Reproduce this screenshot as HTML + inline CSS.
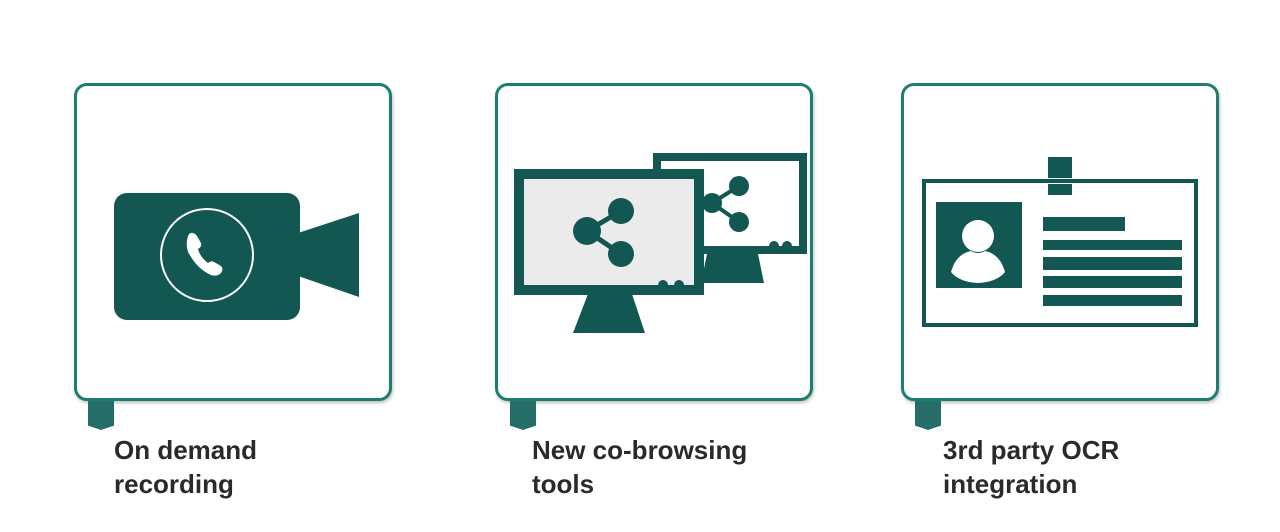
<!DOCTYPE html>
<html><head><meta charset="utf-8"><style>
body{margin:0;width:1280px;height:532px;background:#fff;position:relative;overflow:hidden;font-family:"Liberation Sans",Arial,sans-serif}
.box{position:absolute;top:83px;width:312px;height:312px;border:3px solid #1d7d72;border-radius:13px;box-shadow:1px 2px 3px rgba(0,0,0,.25);background:#fff}
.tab{position:absolute;top:401px;width:26px;height:29px;background:#256e68;clip-path:polygon(0 0,100% 0,100% 85%,50% 100%,0 85%)}
.lbl{position:absolute;top:433px;font-weight:bold;font-size:26px;line-height:34px;color:#2a2a2a}
svg{position:absolute;left:0;top:0}
</style></head><body>
<div class="box" style="left:74px"></div>
<div class="box" style="left:495px"></div>
<div class="box" style="left:901px"></div>
<div class="tab" style="left:88px"></div>
<div class="tab" style="left:510px"></div>
<div class="tab" style="left:915px"></div>
<div class="lbl" style="left:114px">On demand<br>recording</div>
<div class="lbl" style="left:532px">New co-browsing<br>tools</div>
<div class="lbl" style="left:943px">3rd party OCR<br>integration</div>
<svg width="1280" height="532" viewBox="0 0 1280 532">
<g fill="#135752">
<rect x="114" y="193" width="186" height="127" rx="13"/>
<polygon points="298,233 359,213 359,297 298,276"/>
</g>
<circle cx="207" cy="255" r="46" fill="none" stroke="#fff" stroke-width="2"/>
<path d="M189,234 q4,-3 8,2 l4,7 q1,4 -3,6 q2,8 10,14 q3,-3 6,-1 l7,4 q3,3 0,7 q-4,4 -10,2 q-14,-6 -23,-23 q-3,-10 1,-18z" fill="#fff"/>
<polygon points="707,254 758,254 764,283 701,283" fill="#135752"/>
<rect x="657" y="157" width="146" height="93" fill="#fff" stroke="#135752" stroke-width="8"/>
<g fill="#135752"><circle cx="774" cy="246" r="5"/><circle cx="787" cy="246" r="5"/>
<line x1="712" y1="203" x2="739" y2="186" stroke="#135752" stroke-width="4"/><line x1="712" y1="203" x2="739" y2="222" stroke="#135752" stroke-width="4"/>
<circle cx="739" cy="186" r="10"/><circle cx="739" cy="222" r="10"/><circle cx="712" cy="203" r="10"/></g>
<polygon points="588,294 632,294 645,333 573,333" fill="#135752"/>
<rect x="519" y="174" width="180" height="116" fill="#ebebeb" stroke="#135752" stroke-width="10"/>
<g fill="#135752"><circle cx="663" cy="285" r="5"/><circle cx="679" cy="285" r="5"/>
<line x1="587" y1="231" x2="621" y2="211" stroke="#135752" stroke-width="5"/><line x1="587" y1="231" x2="621" y2="254" stroke="#135752" stroke-width="5"/>
<circle cx="587" cy="231" r="14"/><circle cx="621" cy="211" r="13"/><circle cx="621" cy="254" r="13"/></g>
<rect x="924" y="181" width="272" height="144" fill="none" stroke="#135752" stroke-width="4"/>
<rect x="1048" y="157" width="24" height="21" fill="#135752"/>
<rect x="1048" y="184" width="24" height="11" fill="#135752"/>
<rect x="936" y="202" width="86" height="86" fill="#135752"/>
<circle cx="978" cy="236" r="16" fill="#fff"/>
<path d="M951,272 q5,-18 20,-21 q7,4 14,0 q15,3 20,21 q-8,10 -27,11 q-19,-1 -27,-11z" fill="#fff"/>
<g fill="#135752"><rect x="1043" y="217" width="82" height="14"/><rect x="1043" y="240" width="139" height="10"/><rect x="1043" y="257" width="139" height="13"/><rect x="1043" y="276" width="139" height="12"/><rect x="1043" y="295" width="139" height="11"/></g>
</svg>
</body></html>
